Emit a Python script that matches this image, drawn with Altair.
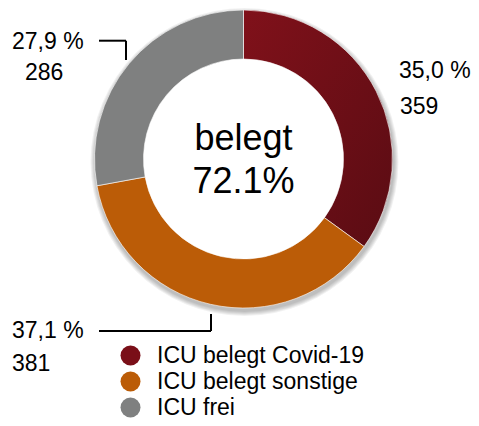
import altair as alt
import pandas as pd

# ---- data ----
categories = ["ICU belegt Covid-19", "ICU belegt sonstige", "ICU frei"]
counts = [359, 381, 286]
pct_labels = ["35,0 %", "37,1 %", "27,9 %"]
colors = ["#7a0f18", "#bb5c07", "#7f8080"]
center_lines = ["belegt", "72.1%"]

df = pd.DataFrame({"category": categories, "count": counts, "idx": list(range(len(categories)))})

FONT = "Liberation Sans"
CX, CY = 235.5, 151
R_OUT, R_IN = 149, 100

# ---- drop shadow rings ----
one = alt.Data(values=[{"k": 0}])
shadow_layers = []
for r in [150, 151, 152, 153, 154]:
    shadow_layers.append(
        alt.Chart(one).mark_arc(
            theta=0, theta2=6.2832, outerRadius=r, innerRadius=138,
            color="#000000", opacity=0.055
        ).encode(x=alt.value(CX + 1), y=alt.value(CY + 3))
    )

red_gradient = alt.LinearGradient(
    gradient="linear", x1=0, y1=0, x2=1, y2=1,
    stops=[alt.GradientStop(color="#80111a", offset=0),
           alt.GradientStop(color="#5a0c13", offset=1)],
)

legend = alt.Legend(
    title=None, orient="none", legendX=111, legendY=336,
    symbolType="circle", symbolSize=400, symbolStrokeWidth=0,
    labelFont=FONT, labelFontSize=23, labelColor="#000000",
    labelOffset=15, rowPadding=2, padding=0, labelLimit=400,
)

donut = alt.Chart(df).mark_arc(
    outerRadius=R_OUT, innerRadius=R_IN, stroke="#ffffff", strokeWidth=1, strokeOpacity=0.6
).encode(
    theta=alt.Theta("count:Q", stack=True),
    order=alt.Order("idx:Q"),
    fill=alt.condition(
        alt.datum.category == categories[0],
        alt.value(red_gradient),
        alt.Fill("category:N", scale=alt.Scale(domain=categories, range=colors), legend=legend),
    ),
    x=alt.value(CX), y=alt.value(CY),
)

# ---- center text ----
center = [
    alt.Chart(one).mark_text(text=center_lines[0], font=FONT, fontSize=36, color="#000000",
                             align="center", baseline="alphabetic").encode(x=alt.value(CX), y=alt.value(142)),
    alt.Chart(one).mark_text(text=center_lines[1], font=FONT, fontSize=36, color="#000000",
                             align="center", baseline="alphabetic").encode(x=alt.value(CX), y=alt.value(185)),
]

# ---- slice labels (layout positions) ----
label_pos = {
    0: ((391, 70), (392, 106)),
    1: ((4, 330), (4, 363)),
    2: ((4, 41), (17, 72)),
}
labels = []
for i, ((px, py), (nx, ny)) in label_pos.items():
    labels.append(alt.Chart(one).mark_text(text=pct_labels[i], font=FONT, fontSize=23, color="#000000",
                                           align="left", baseline="alphabetic").encode(x=alt.value(px), y=alt.value(py)))
    labels.append(alt.Chart(one).mark_text(text=str(counts[i]), font=FONT, fontSize=23, color="#000000",
                                           align="left", baseline="alphabetic").encode(x=alt.value(nx), y=alt.value(ny)))

# ---- leader lines ----
leader_segments = [
    (91, 118, 32.7, 32.7), (118, 118, 32.7, 52),
    (91, 203, 323, 323), (203, 203, 306, 323),
]
leaders = [
    alt.Chart(one).mark_rule(color="#000000", strokeWidth=2).encode(
        x=alt.value(x1), x2=alt.value(x2), y=alt.value(y1), y2=alt.value(y2))
    for (x1, x2, y1, y2) in leader_segments
]

chart = alt.layer(*shadow_layers, donut, *center, *labels, *leaders).properties(
    width=463, height=410, padding=0, autosize="none"
).configure_view(stroke=None)

chart.save("out.html", embed_options={"renderer": "svg", "actions": False})
